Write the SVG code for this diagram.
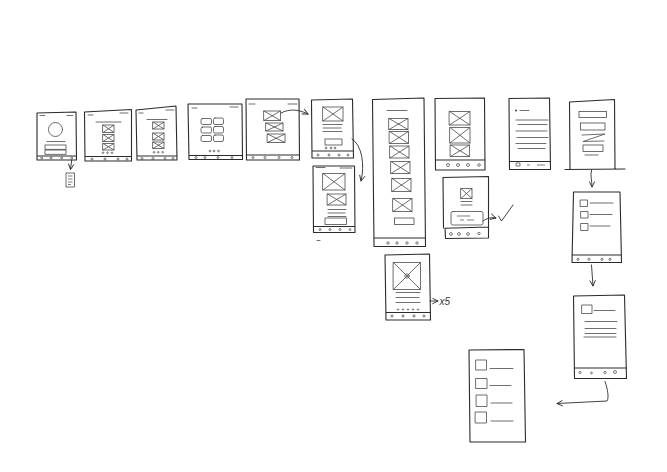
<svg xmlns="http://www.w3.org/2000/svg" width="667" height="472" viewBox="0 0 667 472">
<defs>
<style>
.f{fill:none;stroke:#2b2b2b;stroke-width:1.1;stroke-linejoin:round;stroke-linecap:round}
.t{fill:none;stroke:#4a4a4a;stroke-width:0.8;stroke-linecap:round}
.d{fill:none;stroke:#444;stroke-width:0.7}
.c{fill:none;stroke:#2b2b2b;stroke-width:0.9;stroke-linecap:round}
.lbl{font-family:"Liberation Sans",Arial,sans-serif;font-size:10px;font-style:italic;fill:#333}
</style>
<marker id="ah" viewBox="0 0 10 10" refX="9" refY="5" markerWidth="7" markerHeight="7" orient="auto" markerUnits="userSpaceOnUse">
<path d="M1 1 L9 5 L1 9" fill="none" stroke="#2b2b2b" stroke-width="1.3"/>
</marker>
</defs>
<rect width="667" height="472" fill="#ffffff"/>

<g id="s1">
<path class="f" d="M37 113 L76 112 L76.5 160 L37 160 Z M37 156 L76.5 156"/>
<path class="t" d="M40 115.5 h5 M67 115.5 h6 M47 141.5 h18"/>
<circle class="t" cx="55.5" cy="129.5" r="7"/>
<rect class="t" x="45" y="145" width="21" height="4.3"/>
<rect class="t" x="45" y="150" width="21" height="4.3"/>
<g class="d"><circle cx="41.7" cy="158" r="1"/><circle cx="51" cy="158" r="1"/><circle cx="61.7" cy="158" r="1"/><circle cx="71.7" cy="158" r="1"/></g>
</g>

<g id="doc">
<rect class="t" x="66" y="173" width="8.5" height="14"/>
<path class="d" d="M68 176 h4.5 M68 179 h4.5 M68 182 h4.5 M68 184.5 h3"/>
</g>

<g id="s2">
<path class="f" d="M84.5 112 L131.5 109.5 L131.5 161 L85 161 Z M85 156.5 L131.5 156.5"/>
<path class="t" d="M88 115 h5 M120 113 h8 M96 122 h25"/>
<path class="t" d="M103 125 h11 v7.5 h-11 z l11 7.5 M114 125 l-11 7.5 M103 134.5 h11 v7 h-11 z l11 7 M114 134.5 l-11 7 M103 143.5 h11 v6.5 h-11 z l11 6.5 M114 143.5 l-11 6.5"/>
<g class="d"><circle cx="103" cy="152.7" r="0.8"/><circle cx="107.5" cy="152.7" r="0.8"/><circle cx="112" cy="152.7" r="0.8"/><circle cx="92" cy="159" r="1"/><circle cx="105" cy="159" r="1"/><circle cx="118" cy="159" r="1"/><circle cx="127" cy="159" r="1"/></g>
</g>

<g id="s3">
<path class="f" d="M136 110 L176 106 L177 160 L137 160 Z M137 156 L177 156"/>
<path class="t" d="M139 113 h4 M166 110 h8 M147 119.5 h20"/>
<path class="t" d="M153 122 h11 v7 h-11 z l11 7 M164 122 l-11 7 M153 133 h11 v7 h-11 z l11 7 M164 133 l-11 7 M153 142 h11 v6.5 h-11 z l11 6.5 M164 142 l-11 6.5"/>
<g class="d"><circle cx="154" cy="152.3" r="0.8"/><circle cx="158.3" cy="152.3" r="0.8"/><circle cx="162.7" cy="152.3" r="0.8"/><circle cx="142" cy="158.5" r="1"/><circle cx="153" cy="158.5" r="1"/><circle cx="165" cy="158.5" r="1"/><circle cx="173" cy="158.5" r="1"/></g>
</g>

<g id="s4">
<path class="f" d="M188 104 L242 104 L242.5 159.5 L189 159.5 Z M189 155.5 L242.5 155.5"/>
<path class="t" d="M192 108 h5 M230 107 h8"/>
<g class="t"><rect x="201" y="118.5" width="10.5" height="6" rx="1.5"/><rect x="213.5" y="118" width="10" height="6.5" rx="1.5"/><rect x="201" y="127" width="10.5" height="6" rx="1.5"/><rect x="213.5" y="126.5" width="10" height="6.5" rx="1.5"/><rect x="201" y="135.5" width="10.5" height="6" rx="1.5"/><rect x="213.5" y="135" width="10" height="6.5" rx="1.5"/></g>
<g class="d"><circle cx="210" cy="151" r="0.9"/><circle cx="214" cy="151" r="0.9"/><circle cx="218.5" cy="151" r="0.9"/><circle cx="196" cy="157.5" r="1"/><circle cx="205" cy="157.5" r="1"/><circle cx="218" cy="157.5" r="1"/><circle cx="232" cy="157.5" r="1"/></g>
</g>

<g id="s5">
<path class="f" d="M246 99 L299 99 L299.5 160 L246.5 160 Z M246.5 155 L299.5 155"/>
<path class="t" d="M249 104 h6 M288 104 h9"/>
<path class="t" d="M264 111 h16.5 v9.5 h-16.5 z l16.5 9.5 M280.5 111 l-16.5 9.5 M266 123 h17 v8 h-17 z l17 8 M283 123 l-17 8 M267.5 134 h17.5 v8.5 h-17.5 z l17.5 8.5 M285 134 l-17.5 8.5"/>
<g class="d"><circle cx="253" cy="157.5" r="1"/><circle cx="265" cy="157.5" r="1"/><circle cx="279" cy="157.5" r="1"/><circle cx="292" cy="157.5" r="1"/></g>
</g>

<g id="s6">
<path class="f" d="M311.5 100 L352.5 99 L353.5 158 L312 158 Z M312 151 L353.5 151"/>
<path class="t" d="M323 107 h20 v14 h-20 z l20 14 M343 107 l-20 14 M323 124.5 h19 M323 128 h18 M323 131.5 h19"/>
<rect class="t" x="325" y="139" width="17" height="6"/>
<g class="d"><circle cx="326" cy="148" r="0.9"/><circle cx="331" cy="148" r="0.9"/><circle cx="335" cy="148" r="0.9"/><circle cx="318" cy="155" r="1"/><circle cx="329" cy="155" r="1"/><circle cx="339" cy="155" r="1"/><circle cx="348" cy="155" r="1"/></g>
</g>

<g id="s6b">
<path class="f" d="M313 166 L354.5 166 L355 232.5 L313.5 232.5 Z M313.5 226.5 L355 226.5"/>
<path class="t" d="M316 167.5 h9 M340 168 h12"/>
<path class="t" d="M323 173.5 h22 v16.5 h-22 z l22 16.5 M345 173.5 l-22 16.5 M327.5 194 h18.5 v11 h-18.5 z l18.5 11 M346 194 l-18.5 11 M328 209.5 h18 M328 213 h17 M328 216.5 h18"/>
<rect class="t" x="325" y="218" width="21.5" height="6.5"/>
<g class="d"><circle cx="320" cy="229.5" r="1"/><circle cx="330" cy="229.5" r="1"/><circle cx="340" cy="229.5" r="1"/><circle cx="350" cy="229.5" r="1"/></g>
<path class="t" d="M317 240.5 h3"/>
</g>

<g id="s7">
<path class="f" d="M372.5 99.5 L424 98 L425.5 246.5 L374 246.5 Z M374 238 L425.5 238"/>
<path class="t" d="M387 110.5 h20"/>
<path class="t" d="M389 118.5 h19 v11 h-19 z l19 11 M408 118.5 l-19 11 M389.5 131.5 h19 v12 h-19 z l19 12 M408.5 131.5 l-19 12 M390 146 h19 v12 h-19 z l19 12 M409 146 l-19 12 M391 161.5 h19 v12 h-19 z l19 12 M410 161.5 l-19 12 M392 178.5 h19 v13 h-19 z l19 13 M411 178.5 l-19 13 M393 198.5 h19 v13 h-19 z l19 13 M412 198.5 l-19 13"/>
<rect class="t" x="394.5" y="218" width="19.5" height="6.5"/>
<g class="d"><circle cx="388" cy="243" r="1.2"/><circle cx="397" cy="243" r="1.2"/><circle cx="407" cy="243" r="1.2"/><circle cx="417" cy="243" r="1.2"/></g>
</g>

<g id="s8">
<path class="f" d="M385 255 L429.5 254 L430.5 320 L386 320 Z M386 312.5 L430.5 312.5"/>
<path class="t" d="M393.5 262.5 h27 v27 h-27 z l27 27 M420.5 262.5 l-27 27 M396 292.5 h24 M396 297.5 h23 M396 302.5 h24"/>
<circle class="t" cx="407" cy="276" r="2.2"/>
<g class="d"><circle cx="398" cy="309.5" r="0.7"/><circle cx="403" cy="309.5" r="0.7"/><circle cx="408" cy="309.5" r="0.7"/><circle cx="413" cy="309.5" r="0.7"/><circle cx="418" cy="309.5" r="0.7"/><circle cx="392" cy="316" r="1.1"/><circle cx="403" cy="316" r="1.1"/><circle cx="414" cy="316" r="1.1"/><circle cx="424" cy="316" r="1.1"/></g>
</g>

<g id="s9">
<path class="f" d="M435 98.5 L484.5 98 L485 170 L435.5 170 Z M435.5 160 L485 160"/>
<path class="t" d="M449.5 111.5 h20.5 v13.5 h-20.5 z l20.5 13.5 M470 111.5 l-20.5 13.5 M450 127.5 h20 v15.5 h-20 z l20 15.5 M470 127.5 l-20 15.5 M450.5 145 h19 v11.5 h-19 z l19 11.5 M469.5 145 l-19 11.5"/>
<g class="d"><circle cx="448" cy="165" r="1.5"/><circle cx="458" cy="165" r="1.5"/><circle cx="468" cy="165" r="1.5"/><circle cx="479" cy="165" r="1.3"/></g>
</g>

<g id="s10">
<path class="f" d="M443 177.5 L488.5 176.5 L488.5 228 M443 177.5 L443.5 228 M445 228.3 L488.5 227 L488.5 238 L445.5 238.5 Z"/>
<path class="t" d="M461 188.5 h11 v10 h-11 z l11 10 M472 188.5 l-11 10 M461 201.5 h11 M461 205 h11"/>
<rect class="t" x="451" y="211.5" width="32" height="13.5" rx="2"/>
<path class="d" d="M457 216 h13 M460 220 h4 M467 220 h7"/>
<g class="d"><circle cx="451" cy="234" r="1.4"/><circle cx="459" cy="234" r="1.4"/><circle cx="468" cy="234" r="1.4"/><circle cx="479" cy="233.5" r="1.2"/></g>
</g>

<g id="s11">
<path class="f" d="M509 98.5 L549.5 98 L550.5 169.5 L509.5 169.5 Z M509.5 161.5 L550.5 161.5"/>
<circle cx="516" cy="110.5" r="1" fill="#444"/>
<path class="t" d="M520 110.5 h9 M516 120 h32 M518 124.5 h29 M516 131 h31 M517 137.5 h31 M516 143.5 h30 M518 148.5 h27"/>
<path class="d" d="M516 163 h4 v3 h-4 z M527 165 h3 M537 165 h8"/>
</g>

<g id="s12">
<path class="f" d="M569.5 102 L614.5 99.5 L615 169 M569.5 102 L570 169 M565 169.5 L625 169"/>
<rect class="t" x="579" y="111.5" width="27.5" height="6"/>
<rect class="t" x="580.5" y="123" width="24.5" height="7"/>
<path class="t" d="M582 135 L605 134 L583 141.5 L604 141"/>
<rect class="t" x="583" y="145" width="20" height="6.5"/>
<path class="t" d="M585 155 h13"/>
</g>

<g id="s13">
<path class="f" d="M573.5 192 L620 192 L621.5 262.5 L572 262.5 Z M572 255 L621.5 255"/>
<path class="t" d="M580.5 200 h7 v6.5 h-7 z M590 203 h23 M581 211.5 h7 v6.5 h-7 z M590 214.5 h22 M581 223.5 h7 v7 h-7 z M590 226 h20"/>
<g class="d"><circle cx="578" cy="259.3" r="1.1"/><circle cx="589" cy="259.3" r="1.1"/><circle cx="602" cy="259.3" r="1.1"/><circle cx="610" cy="259.3" r="1.1"/></g>
</g>

<g id="s14">
<path class="f" d="M573.5 296 L624.5 295 L626.5 378.5 L574.5 378.5 Z M574.5 368 L626.5 368"/>
<path class="t" d="M582 305 h10 v8.5 h-10 z M594 310.5 h21 M585 321.5 h32 M585 328.5 h31 M585 333.5 h31 M584 337 h32"/>
<g class="d"><circle cx="580" cy="372.5" r="1.1"/><circle cx="591.5" cy="373" r="0.9"/><circle cx="605" cy="372.5" r="1.2"/><circle cx="615" cy="372" r="1.5"/></g>
</g>

<g id="s15">
<path class="f" d="M469 350 L524 349.5 L525.5 442 L470 442 Z"/>
<path class="t" d="M476 360 h10.5 v10 h-10.5 z M476 378.5 h11 v10 h-11 z M476.5 395 h10.5 v11.5 h-10.5 z M475.5 412 h11 v11 h-11 z M490 368.5 h23 M490 385.5 h21 M491 403 h21 M491 421 h22"/>
</g>

<g id="connectors">
<path class="c" d="M71.7 160 L70.5 169.5" marker-end="url(#ah)"/>
<path class="c" d="M281 113 C 290 108, 300 110, 308 114" marker-end="url(#ah)"/>
<path class="c" d="M352 139 C 362 145, 365 165, 361 181" marker-end="url(#ah)"/>
<path class="c" d="M430 301 L438 301" marker-end="url(#ah)"/>
<path class="c" d="M483 221 C 487 218, 492 217, 496 218" marker-end="url(#ah)"/>
<path class="c" d="M498.5 216 L501.5 221 L513 205"/>
<path class="c" d="M591.5 170 C 590 176, 592 180, 592 187" marker-end="url(#ah)"/>
<path class="c" d="M591.5 265 L593 286" marker-end="url(#ah)"/>
<path class="c" d="M605 381.5 C 608 390, 609 398, 607 401 L557 403.5" marker-end="url(#ah)"/>
<text class="lbl" x="439.5" y="304.5">x5</text>
</g>
</svg>
